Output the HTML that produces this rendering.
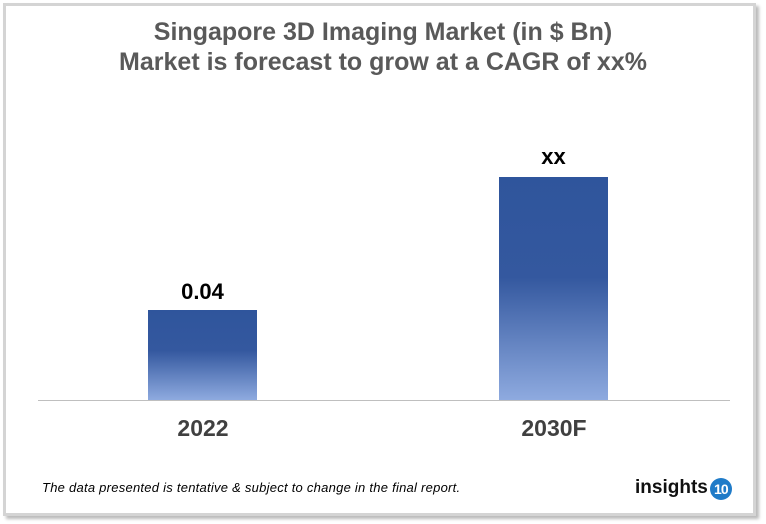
<!DOCTYPE html>
<html><head><style>
body{margin:0;width:766px;height:524px;background:#fff;position:relative;overflow:hidden;font-family:"Liberation Sans",Arial,sans-serif}
.frame{position:absolute;left:3px;top:3px;width:747px;height:507px;border:3px solid #d4d4d4;box-shadow:3px 3px 3px #bbb}
.t{position:absolute;left:0;width:766px;text-align:center;font-weight:bold;font-size:25px;color:#595959}
.bar{position:absolute;width:109px;background:linear-gradient(to bottom,#2f559c 0%,#34589f 45%,#8eaadf 100%)}
.lab{position:absolute;width:109px;text-align:center;font-weight:bold;color:#000;font-size:22px}
.x{position:absolute;width:160px;text-align:center;font-weight:bold;color:#404040;font-size:23px}
</style></head><body>
<div class="frame"></div>
<div class="t" style="top:18px">Singapore 3D Imaging Market (in $ Bn)</div>
<div class="t" style="top:48px">Market is forecast to grow at a CAGR of xx%</div>
<div style="position:absolute;left:38px;top:400px;width:692px;height:1px;background:#bfbfbf"></div>
<div class="bar" style="left:148px;top:310px;height:90px"></div>
<div class="bar" style="left:499px;top:177px;height:223px"></div>
<div class="lab" style="left:148px;top:279px">0.04</div>
<div class="lab" style="left:499px;top:144px">xx</div>
<div class="x" style="left:123px;top:415px">2022</div>
<div class="x" style="left:474px;top:415px">2030F</div>
<div style="position:absolute;left:42px;top:480px;font-size:13px;letter-spacing:0.25px;font-style:italic;color:#000">The data presented is tentative &amp; subject to change in the final report.</div>
<div style="position:absolute;left:635px;top:477px;font-size:19px;font-weight:bold;color:#111">insights<span style="display:inline-block;width:22px;height:22px;border-radius:50%;background:#1f7bc8;color:#fff;font-size:14px;line-height:22px;text-align:center;vertical-align:-1px;margin-left:2px;letter-spacing:-1px">10</span></div>
</body></html>
